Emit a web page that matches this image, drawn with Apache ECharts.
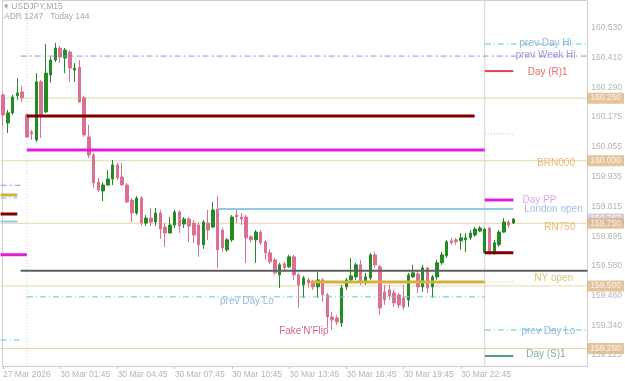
<!DOCTYPE html>
<html><head><meta charset="utf-8">
<script src="https://cdn.jsdelivr.net/npm/echarts@6/dist/echarts.min.js"></script>
<style>html,body{margin:0;padding:0;background:#fff}#c{width:625px;height:381px}</style>
</head><body><div id="c"></div>
<script>
// ---------- data ----------
const slotCount = 123;               // 15-minute slots shown on the time axis
const yMin = 159.180, yMax = 160.642;
// [open, close, low, high]  (27 Mar last 5 bars, 30 Mar 96 bars, 31 Mar 7 bars)
const ohlc = [
[160.263,160.183,160.143,160.271],[160.151,160.191,160.111,160.203],[160.191,160.255,160.183,160.263],
[160.259,160.271,160.243,160.330],[160.275,160.251,160.235,160.299],
[160.183,160.095,160.091,160.187],[160.115,160.107,160.083,160.123],[160.083,160.315,160.075,160.350],
[160.315,160.183,160.091,160.323],[160.195,160.350,160.191,160.466],[160.342,160.402,160.311,160.414],
[160.402,160.450,160.394,160.470],[160.450,160.414,160.390,160.458],[160.410,160.442,160.350,160.450],
[160.434,160.370,160.315,160.442],[160.362,160.370,160.315,160.390],[160.374,160.235,160.231,160.402],
[160.251,160.103,160.095,160.259],[160.095,160.023,160.011,160.143],[160.023,159.911,159.891,160.031],
[159.915,159.883,159.875,159.931],[159.879,159.903,159.839,159.915],[159.903,159.927,159.899,159.963],
[159.927,159.983,159.903,160.003],[159.983,159.931,159.923,159.991],[159.935,159.903,159.899,159.991],
[159.903,159.835,159.831,159.911],[159.843,159.791,159.755,159.851],[159.791,159.851,159.783,159.859],
[159.851,159.751,159.739,159.859],[159.751,159.771,159.739,159.783],[159.771,159.755,159.739,159.811],
[159.755,159.791,159.739,159.811],[159.791,159.727,159.688,159.803],[159.735,159.711,159.656,159.751],
[159.711,159.743,159.711,159.775],[159.743,159.795,159.731,159.803],[159.795,159.739,159.711,159.803],
[159.747,159.767,159.731,159.775],[159.767,159.739,159.676,159.775],[159.751,159.703,159.672,159.763],
[159.743,159.664,159.616,159.755],[159.664,159.755,159.648,159.763],[159.751,159.723,159.684,159.803],
[159.735,159.803,159.731,159.835],[159.807,159.644,159.572,159.859],
[159.723,159.652,159.636,159.731],[159.644,159.684,159.636,159.692],[159.684,159.775,159.676,159.783],
[159.783,159.775,159.751,159.811],[159.775,159.767,159.743,159.791],[159.775,159.692,159.592,159.783],
[159.696,159.684,159.672,159.703],[159.684,159.715,159.592,159.723],[159.715,159.672,159.664,159.723],
[159.676,159.632,159.604,159.684],[159.632,159.596,159.588,159.644],[159.604,159.552,159.544,159.612],
[159.544,159.584,159.492,159.592],[159.588,159.572,159.564,159.596],[159.576,159.616,159.572,159.624],
[159.616,159.544,159.524,159.624],[159.544,159.504,159.412,159.552],[159.504,159.532,159.452,159.540],
[159.524,159.512,159.492,159.532],[159.516,159.496,159.484,159.524],[159.496,159.524,159.452,159.556],
[159.524,159.464,159.436,159.532],[159.464,159.376,159.332,159.472],[159.376,159.364,159.324,159.396],
[159.372,159.356,159.344,159.384],[159.352,159.492,159.336,159.504],[159.496,159.524,159.484,159.532],
[159.524,159.540,159.516,159.612],[159.536,159.584,159.524,159.592],[159.584,159.516,159.504,159.604],
[159.516,159.536,159.504,159.552],[159.532,159.624,159.524,159.632],[159.624,159.584,159.572,159.636],
[159.576,159.412,159.384,159.584],[159.476,159.444,159.424,159.504],[159.484,159.460,159.444,159.504],
[159.472,159.432,159.416,159.484],[159.464,159.424,159.412,159.472],[159.452,159.416,159.404,159.504],
[159.444,159.544,159.416,159.552],[159.536,159.552,159.532,159.584],[159.548,159.496,159.472,159.564],
[159.496,159.572,159.476,159.584],[159.572,159.492,159.472,159.576],[159.496,159.536,159.452,159.544],
[159.536,159.592,159.524,159.604],[159.592,159.624,159.584,159.636],[159.620,159.676,159.612,159.684],
[159.680,159.672,159.664,159.692],[159.684,159.676,159.664,159.692],[159.680,159.692,159.644,159.711],
[159.684,159.692,159.636,159.711],[159.692,159.711,159.684,159.723],[159.703,159.727,159.696,159.735],
[159.719,159.731,159.715,159.739],
[159.632,159.727,159.632,159.731],[159.731,159.632,159.624,159.735],[159.632,159.672,159.624,159.684],
[159.664,159.715,159.656,159.723],[159.715,159.755,159.711,159.771],[159.755,159.743,159.731,159.763],
[159.751,159.767,159.747,159.771]
];
const lastPrice = 159.767;
const yTickValues = [160.530,160.410,160.290,160.175,160.055,159.935,159.815,159.695,159.580,159.460,159.340,159.225];
const xTickSlots  = [0,12,24,36,48,60,72,84,96];
const xTickLabels = ['27 Mar 2026','30 Mar 01:45','30 Mar 04:45','30 Mar 07:45','30 Mar 10:45','30 Mar 13:45','30 Mar 16:45','30 Mar 19:45','30 Mar 22:45'];
const daySeparators = [5, 101];
const roundLevels = [160.250, 160.000, 159.750, 159.500, 159.250];
// horizontal level segments: price, from slot, to slot
const levels = [
 {kind:'prevDayHi',  price:160.466, from:101, to:122.5},
 {kind:'prevWeekHi', price:160.418, from:3.7, to:122.5},
 {kind:'dayR1',      price:160.358, from:101, to:107},
 {kind:'dayOpen',    price:160.179, from:5,   to:98.9},
 {kind:'dotGrey',    price:160.107, from:101, to:107},
 {kind:'dayPP',      price:160.043, from:5,   to:101},
 {kind:'prevWeekHi', price:159.902, from:-0.5,to:3.7},
 {kind:'nyOpen',     price:159.863, from:-0.5,to:3},
 {kind:'prevDayLo',  price:159.851, from:-0.5,to:3},
 {kind:'dayOpen',    price:159.787, from:-0.5,to:3},
 {kind:'london',     price:159.757, from:-0.5,to:3},
 {kind:'dayPP',      price:159.843, from:101, to:107},
 {kind:'london',     price:159.807, from:45,  to:107},
 {kind:'dayOpen',    price:159.632, from:101, to:107},
 {kind:'dayPP',      price:159.624, from:-0.5,to:5},
 {kind:'prevClose',  price:159.560, from:3.7, to:122.5},
 {kind:'nyOpen',     price:159.516, from:64.4,to:101},
 {kind:'nyDotted',   price:159.516, from:101, to:107},
 {kind:'prevDayLo',  price:159.456, from:5,   to:101},
 {kind:'prevDayLo',  price:159.324, from:101, to:122.5},
 {kind:'prevDayLo',  price:159.284, from:-0.5,to:3.7},
 {kind:'dayS1',      price:159.220, from:101, to:107}
];
// text annotations: text, slot, price
const annotations = [
 {text:'prev Day Hi',  slot:108.3, price:160.470, kind:'prevDayHiTxt'},
 {text:'prev Week Hi', slot:107.5, price:160.422, kind:'prevWeekHi'},
 {text:'Day (R)1',     slot:110.0, price:160.354, kind:'dayR1'},
 {text:'BRN000',       slot:112.0, price:159.991, kind:'round'},
 {text:'Day PP',       slot:108.9, price:159.843, kind:'dayPPTxt'},
 {text:'London open',  slot:109.3, price:159.807, kind:'londonTxt'},
 {text:'RN750',        slot:113.5, price:159.736, kind:'round'},
 {text:'NY open',      slot:111.4, price:159.532, kind:'nyTxt'},
 {text:'prev Day Lo',  slot:45.5,  price:159.440, kind:'prevDayLoTxt'},
 {text:'prev Day Lo',  slot:108.7, price:159.320, kind:'prevDayLoTxt'},
 {text:'Day (S)1',     slot:109.7, price:159.228, kind:'dayS1'},
 {text:"Fake'N'Flip",  slot:57.9,  price:159.320, kind:'fake'}
];

// ---------- styles ----------
const FONT = '"Liberation Sans", Arial, sans-serif';
const lineStyles = {
 prevDayHi:  {color:'#5ec8c4', width:1, type:[6,3,1,3]},
 prevWeekHi: {color:'#a48ad8', width:1, type:[6,3,2,3]},
 dayR1:      {color:'#e04848', width:2, type:'solid'},
 dayOpen:    {color:'#800000', width:3, type:'solid'},
 dotGrey:    {color:'#b8b8b8', width:1, type:[1,2]},
 dayPP:      {color:'#e020d8', width:3, type:'solid'},
 london:     {color:'#8ecae2', width:2, type:'solid'},
 prevClose:  {color:'#606060', width:2, type:'solid'},
 nyOpen:     {color:'#d4b040', width:3, type:'solid'},
 nyDotted:   {color:'#d8c070', width:1, type:[1,2]},
 prevDayLo:  {color:'#5ec8d0', width:1, type:[6,3,1,3]},
 dayS1:      {color:'#50a080', width:2, type:'solid'}
};
const textColors = {
 prevDayHiTxt:'#6fa0d8', prevWeekHi:'#8f7fd0', dayR1:'#e04848', round:'#eaa548',
 dayPPTxt:'#d48ee6', londonTxt:'#88b0e0', nyTxt:'#d8b050', prevDayLoTxt:'#78a8d8',
 dayS1:'#50a080', fake:'#d04070'
};

const slots = Array.from({length: slotCount}, (_, i) => String(i));
const showTick = (idx) => xTickSlots.indexOf(idx) >= 0;

const series = [];
// round number lines
roundLevels.forEach(p => series.push({
  type:'line', xAxisIndex:1, yAxisIndex:0, data:[[-0.5,p],[slotCount-0.5,p]],
  symbol:'none', silent:true, z:1, animation:false,
  lineStyle:{color:'#e2d9ad', width:1}
}));
// day separators
daySeparators.forEach((s, i) => series.push({
  type:'line', xAxisIndex:1, yAxisIndex:0, data:[[s,yMin],[s,yMax]],
  symbol:'none', silent:true, z:1, animation:false,
  lineStyle: i === 0 ? {color:'#c8c8c8', width:1, type:[1,2]} : {color:'#d4d4d4', width:1}
}));
// candles
series.push({
  type:'candlestick', xAxisIndex:0, yAxisIndex:0, data: ohlc, barWidth:3, z:2, animation:false,
  itemStyle:{color:'#228B22', color0:'#DB7093', borderColor:'#228B22', borderColor0:'#DB7093', borderWidth:1}
});
// levels
levels.forEach(l => series.push({
  type:'line', xAxisIndex:1, yAxisIndex:0, data:[[l.from,l.price],[l.to,l.price]],
  symbol:'none', silent:true, z:3, animation:false, lineStyle: lineStyles[l.kind]
}));
// annotations
series.push({
  type:'scatter', xAxisIndex:1, yAxisIndex:0, symbolSize:0, clip:false, z:4, animation:false, silent:true,
  data: annotations.map(a => ({name:a.text, value:[a.slot, a.price],
     label:{show:true, position:'right', distance:0, formatter:'{b}', color:textColors[a.kind],
            fontSize:10, fontFamily:FONT}}))
});
// price boxes on the axis
series.push({
  type:'scatter', xAxisIndex:1, yAxisIndex:0, symbolSize:0, clip:false, z:5, animation:false, silent:true,
  data: [{value:[slotCount-0.5, lastPrice], label:{show:true, position:'right', distance:0,
          formatter: lastPrice.toFixed(3), backgroundColor:'#c9c4d9', color:'#fff', fontSize:8.5,
          fontFamily:FONT, padding:[1,3,1,3]}}]
});
series.push({
  type:'scatter', xAxisIndex:1, yAxisIndex:0, symbolSize:0, clip:false, z:6, animation:false, silent:true,
  data: roundLevels.map(p => ({value:[slotCount-0.5, p], label:{show:true, position:'right', distance:0,
          formatter: p.toFixed(3), backgroundColor:'#dcb584', color:'#fff', fontSize:8.5,
          fontFamily:FONT, padding:[1,3,1,3]}}))
});

const chart = echarts.init(document.getElementById('c'), null, {renderer:'canvas'});
chart.setOption({
  animation:false,
  backgroundColor:'#ffffff',
  grid:{left:0, right:37, top:0, bottom:15},
  xAxis:[
    {type:'category', data:slots, boundaryGap:true,
     axisLine:{show:false},
     axisTick:{show:true, alignWithLabel:true, interval:(i)=>showTick(i), length:3, lineStyle:{color:'#c4c4c4'}},
     axisLabel:{interval:(i)=>showTick(i), formatter:(v,i)=>xTickLabels[xTickSlots.indexOf(Number(v))] || '',
                align:'left', margin:4, fontSize:8.5, color:'#b4b4b4', fontFamily:FONT},
     splitLine:{show:false}},
    {type:'value', min:-0.5, max:slotCount-0.5, show:false}
  ],
  yAxis:{type:'value', position:'right', min:yMin, max:yMax,
    splitLine:{show:false}, axisLine:{show:false}, axisTick:{show:false},
    axisLabel:{customValues:yTickValues, formatter:(v)=>Number(v).toFixed(3), fontSize:8.5,
               color:'#b4b4b4', margin:4, fontFamily:FONT}},
  graphic:[
    {type:'rect', z:0, silent:true, shape:{x:2.5, y:0.5, width:585, height:366},
     style:{fill:'none', stroke:'#cfcfcf', lineWidth:1}},
    {type:'text', left:4, top:2, z:10, style:{text:'\u25BE USDJPY,M15', fill:'#a8a8a8', fontSize:8.5, fontFamily:FONT}},
    {type:'text', left:4, top:12, z:10, style:{text:'ADR 1247   Today 144', fill:'#a8a8a8', fontSize:8.5, fontFamily:FONT}}
  ],
  series
});
</script></body></html>
